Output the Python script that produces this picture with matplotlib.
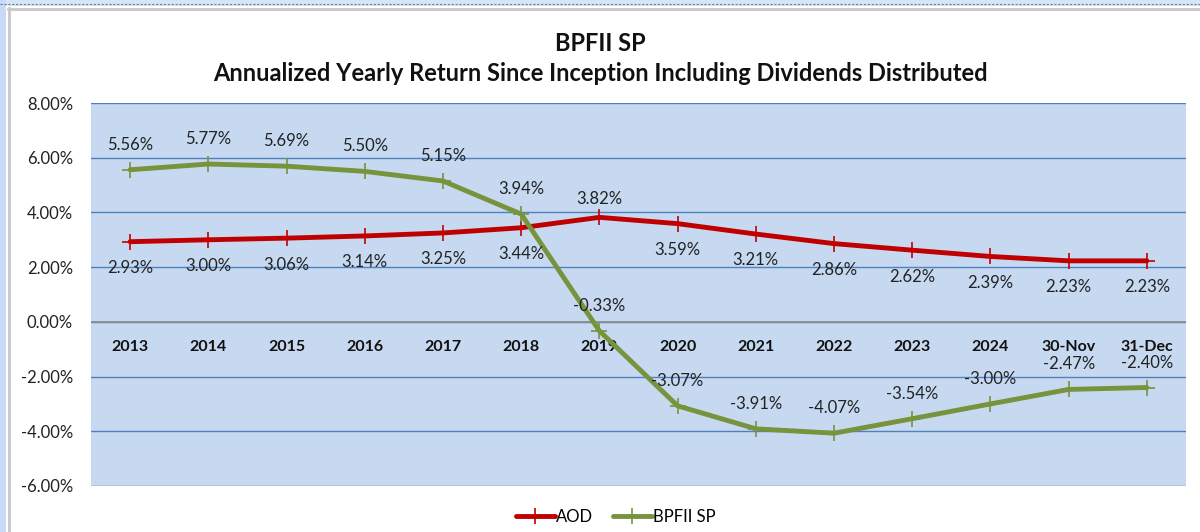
import matplotlib
matplotlib.use("Agg")
import matplotlib.pyplot as plt
from matplotlib.patches import Rectangle
from matplotlib.lines import Line2D
from matplotlib.ticker import FuncFormatter, MultipleLocator

categories = ["2013", "2014", "2015", "2016", "2017", "2018", "2019", "2020",
              "2021", "2022", "2023", "2024", "30-Nov", "31-Dec"]
aod = [2.93, 3.00, 3.06, 3.14, 3.25, 3.44, 3.82, 3.59, 3.21, 2.86, 2.62, 2.39, 2.23, 2.23]
bpfii = [5.56, 5.77, 5.69, 5.50, 5.15, 3.94, -0.33, -3.07, -3.91, -4.07, -3.54, -3.00, -2.47, -2.40]

FONT = ["Lato", "DejaVu Sans"]
plt.rcParams["font.family"] = FONT

W, H = 1200, 532
fig = plt.figure(figsize=(W / 100, H / 100), dpi=100)
fig.patch.set_facecolor("white")

# frame decorations (spreadsheet look)
fig.patches.append(Rectangle((0, 1 - 6 / H), 1, 6 / H, transform=fig.transFigure,
                             facecolor="#D6E6F7", edgecolor="none", zorder=0))
fig.lines.append(Line2D([0, 1], [1 - 4 / H, 1 - 4 / H], transform=fig.transFigure,
                        color="#6A7C90", lw=0.8, ls=(0, (2, 1.5))))
fig.lines.append(Line2D([8 / W, 1], [1 - 8.5 / H, 1 - 8.5 / H], transform=fig.transFigure,
                        color="#C8C8C8", lw=2))
fig.patches.append(Rectangle((0, 0), 6 / W, 1, transform=fig.transFigure,
                             facecolor="#C7DAF7", edgecolor="none", zorder=0))
fig.lines.append(Line2D([8.5 / W, 8.5 / W], [0, 1 - 8 / H], transform=fig.transFigure,
                        color="#C8C8C8", lw=2))

left, right, top, bottom = 91, 1186, 103, 486
ax = fig.add_axes([left / W, 1 - bottom / H, (right - left) / W, (bottom - top) / H])
ax.set_facecolor("#C6D9F1")

x = list(range(len(categories)))
ax.set_xlim(-0.5, len(categories) - 0.5)
ax.set_ylim(-6, 8)
ax.yaxis.set_major_locator(MultipleLocator(2))
ax.yaxis.set_major_formatter(FuncFormatter(lambda v, p: f"{v:.2f}%"))
ax.tick_params(axis="y", length=0, labelsize=12, pad=13, colors="#222222")
ax.set_xticks([])
for s in ax.spines.values():
    s.set_visible(False)
ax.grid(axis="y", color="#4F81BD", lw=1.0)
ax.set_axisbelow(True)
ax.axhline(0, color="#8C8C8C", lw=1.2, zorder=1)

ax.plot(x, aod, color="#C00000", lw=3.5, marker="+", ms=11, mew=1.2,
        label="AOD", zorder=3, solid_capstyle="round")
ax.plot(x, bpfii, color="#77933C", lw=3.5, marker="+", ms=11, mew=1.2,
        label="BPFII SP", zorder=4, solid_capstyle="round")

for i, v in enumerate(aod):
    dy = 13 if categories[i] == "2019" else -19
    ax.annotate(f"{v:.2f}%", (i, v), xytext=(0, dy), textcoords="offset points",
                ha="center", va="center", fontsize=12, color="#222222", zorder=5)
for i, v in enumerate(bpfii):
    ax.annotate(f"{v:.2f}%", (i, v), xytext=(0, 18), textcoords="offset points",
                ha="center", va="center", fontsize=12, color="#222222", zorder=5)

for i, c in enumerate(categories):
    ax.annotate(c, (i, 0), xytext=(0, -18), textcoords="offset points",
                ha="center", va="center", fontsize=11.5, fontweight="bold", color="#111111",
                zorder=2)

fig.text(0.5, 1 - 44 / H, "BPFII SP", ha="center", va="center",
         fontsize=17, fontweight="bold", color="#111111")
fig.text(0.5, 1 - 73 / H, "Annualized Yearly Return Since Inception Including Dividends Distributed",
         ha="center", va="center", fontsize=17, fontweight="bold", color="#111111")

fig.legend(loc="center", bbox_to_anchor=(616 / W, 1 - 517 / H), ncol=2, frameon=False,
           fontsize=12, handlelength=2.3, columnspacing=1.2, handletextpad=0.1)

fig.savefig("out.png", dpi=100)
